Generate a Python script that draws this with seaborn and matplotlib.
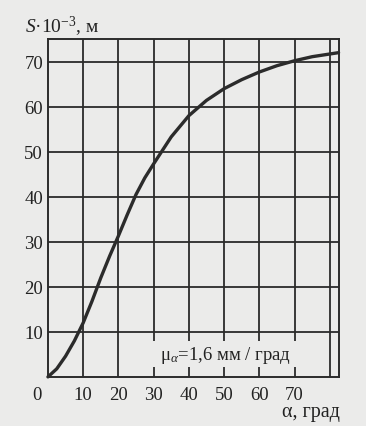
import pandas as pd
import seaborn as sns
import matplotlib.pyplot as plt
from matplotlib.patches import Rectangle

# values
alpha = [0, 2.5, 5, 7.5, 10, 12.5, 15, 17.5, 20, 22.5, 25, 27.5, 30, 35, 40,
         45, 50, 55, 60, 65, 70, 75, 80, 82.5]
S = [0, 1.8, 4.6, 8.0, 12.0, 16.8, 22.0, 26.8, 31.3, 36.0, 40.5, 44.2, 47.3,
     53.3, 58.0, 61.4, 64.0, 66.0, 67.7, 69.1, 70.2, 71.1, 71.7, 72.0]
xticks = [10, 20, 30, 40, 50, 60, 70, 80]
xticklabels = ['10', '20', '30', '40', '50', '60', '70', '']
yticks = [10, 20, 30, 40, 50, 60, 70]

df = pd.DataFrame({'alpha': alpha, 'S': S})

paper = '#ebebea'
ink = '#2b2b2b'
fs = 13.5

sns.set_theme(style="ticks")
plt.rcParams['font.family'] = ['Liberation Serif', 'DejaVu Serif']
plt.rcParams['mathtext.fontset'] = 'custom'
plt.rcParams['mathtext.rm'] = 'Liberation Serif'
plt.rcParams['mathtext.it'] = 'Liberation Serif:italic'

fig = plt.figure(figsize=(3.66, 4.27), dpi=100, facecolor=paper)
ax = fig.add_axes([0.131, 0.115, 0.795, 0.791])
ax.set_facecolor(paper)

sns.lineplot(data=df, x='alpha', y='S', ax=ax, color=ink, linewidth=2.4,
             zorder=3, clip_on=False)

ax.set_xlim(0, 82.6)
ax.set_ylim(0, 75)
ax.set_xticks(xticks)
ax.set_xticklabels(xticklabels)
ax.set_yticks(yticks)
ax.grid(True, color=ink, linewidth=1.3)
ax.tick_params(length=0, labelsize=fs, colors='#222222')
ax.tick_params(axis='x', pad=6.5)
ax.tick_params(axis='y', pad=3.5)
for sp in ax.spines.values():
    sp.set_color(ink)
    sp.set_linewidth(1.4)
ax.set_xlabel('')
ax.set_ylabel('')

# label box that breaks the grid lines
ax.add_patch(Rectangle((28.9, 2.2), 42.6, 5.8, facecolor=paper,
                       edgecolor='none', zorder=1.5))
ax.text(50.3, 5.0, r'μ$_{\alpha}$=1,6 мм / град', ha='center', va='center',
        fontsize=fs, color='#222222', zorder=4)

ax.annotate('0', xy=(-3.1, 0), xycoords=('data', 'axes fraction'),
            xytext=(0, -6.5), textcoords='offset points', ha='center',
            va='top', fontsize=fs, color='#222222', annotation_clip=False)
fig.text(0.928, 0.035, 'α, град', ha='right', va='center', fontsize=14.5,
         color='#222222')
fig.text(0.069, 0.937, r'$S$·10$^{-3}$, м', ha='left', va='center',
         fontsize=14, color='#222222')

plt.savefig('out.png', dpi=100, facecolor=paper)
